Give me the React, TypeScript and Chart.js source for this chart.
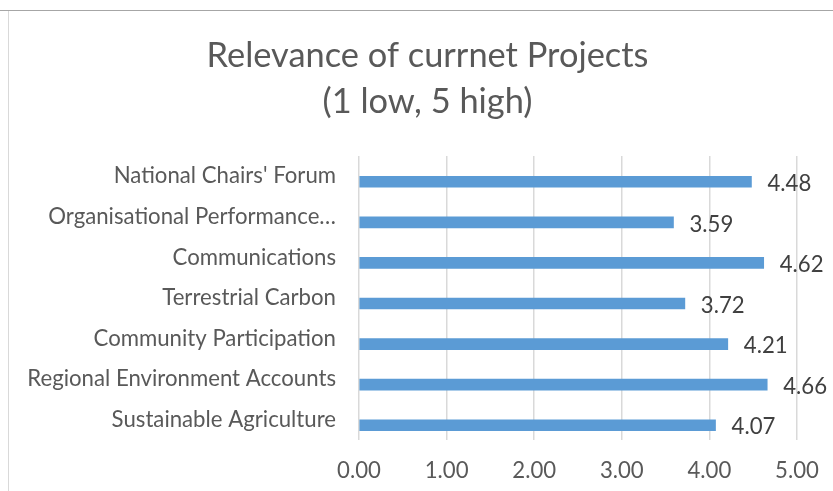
import React, { useEffect, useRef } from "react";
import { Chart, registerables } from "chart.js";

Chart.register(...registerables);

const titleLines = ["Relevance of currnet Projects", "(1 low, 5 high)"];
const categories = [
  "National Chairs' Forum",
  "Organisational Performance…",
  "Communications",
  "Terrestrial Carbon",
  "Community Participation",
  "Regional Environment Accounts",
  "Sustainable Agriculture",
];
const relevance = [4.48, 3.59, 4.62, 3.72, 4.21, 4.66, 4.07];
const spacerSeries = [null, null, null, null, null, null, null];
const xTicks = [0, 1, 2, 3, 4, 5];

const FONT = "Lato, 'Open Sans', sans-serif";
const TEXT = "#595959";
const LABEL_SIZE = 22.2;
const TITLE_SIZE = 34.4;

const dataLabelPlugin = {
  id: "valueLabels",
  afterDatasetsDraw(chart: any) {
    const ctx = chart.ctx;
    const meta = chart.getDatasetMeta(1);
    ctx.save();
    ctx.font = `${LABEL_SIZE}px ${FONT}`;
    ctx.fillStyle = "#404040";
    ctx.textAlign = "left";
    ctx.textBaseline = "middle";
    meta.data.forEach((el: any, i: number) => {
      ctx.fillText(relevance[i].toFixed(2), el.x + 16, el.y + 2);
    });
    ctx.restore();
  },
};

export default function App() {
  const ref = useRef<HTMLCanvasElement>(null);
  useEffect(() => {
    if (!ref.current) return;
    const chart = new Chart(ref.current, {
      type: "bar",
      data: {
        labels: categories,
        datasets: [
          { label: "spacer", data: spacerSeries as any, backgroundColor: "#ED7D31", barThickness: 11 },
          { label: "Relevance", data: relevance, backgroundColor: "#5B9BD5", barThickness: 11 },
        ],
      },
      options: {
        indexAxis: "y",
        responsive: false,
        animation: false,
        layout: { padding: 0 },
        plugins: {
          legend: { display: false },
          tooltip: { enabled: false },
          title: {
            display: true,
            text: titleLines,
            color: TEXT,
            font: { family: FONT, size: TITLE_SIZE, weight: "normal", lineHeight: 46 / TITLE_SIZE },
            padding: { top: 33, bottom: 31 },
          },
        },
        scales: {
          x: {
            min: 0,
            max: 5,
            afterBuildTicks: (scale: any) => {
              scale.ticks = xTicks.map((v) => ({ value: v }));
            },
            afterFit: (scale: any) => {
              scale.height = 51;
            },
            ticks: {
              color: TEXT,
              font: { family: FONT, size: LABEL_SIZE },
              padding: 18,
              callback: (v: any) => Number(v).toFixed(2),
            },
            grid: { color: "#D9D9D9", drawTicks: false, lineWidth: 1.5 },
            border: { display: false },
          },
          y: {
            afterFit: (scale: any) => {
              scale.width = 359;
            },
            ticks: {
              color: TEXT,
              font: { family: FONT, size: LABEL_SIZE },
              padding: 23,
            },
            grid: { display: false, drawTicks: false },
            border: { display: false },
          },
          yRight: {
            type: "linear",
            position: "right",
            display: true,
            afterFit: (scale: any) => {
              scale.width = 58;
            },
            ticks: { display: false },
            grid: { display: false, drawTicks: false },
            border: { display: false },
          },
        },
      },
      plugins: [dataLabelPlugin],
    });
    return () => chart.destroy();
  }, []);

  return (
    <div style={{ position: "fixed", left: 0, top: 0, width: 833, height: 491, background: "#fff", overflow: "hidden" }}>
      <canvas ref={ref} width={855} height={491} style={{ position: "absolute", left: 0, top: 0 }} />
      <div style={{ position: "absolute", left: 0, top: 10, width: 833, height: 1, background: "#A6A6A6" }} />
      <div style={{ position: "absolute", left: 8, top: 11, width: 1, height: 480, background: "#D9D9D9" }} />
    </div>
  );
}
